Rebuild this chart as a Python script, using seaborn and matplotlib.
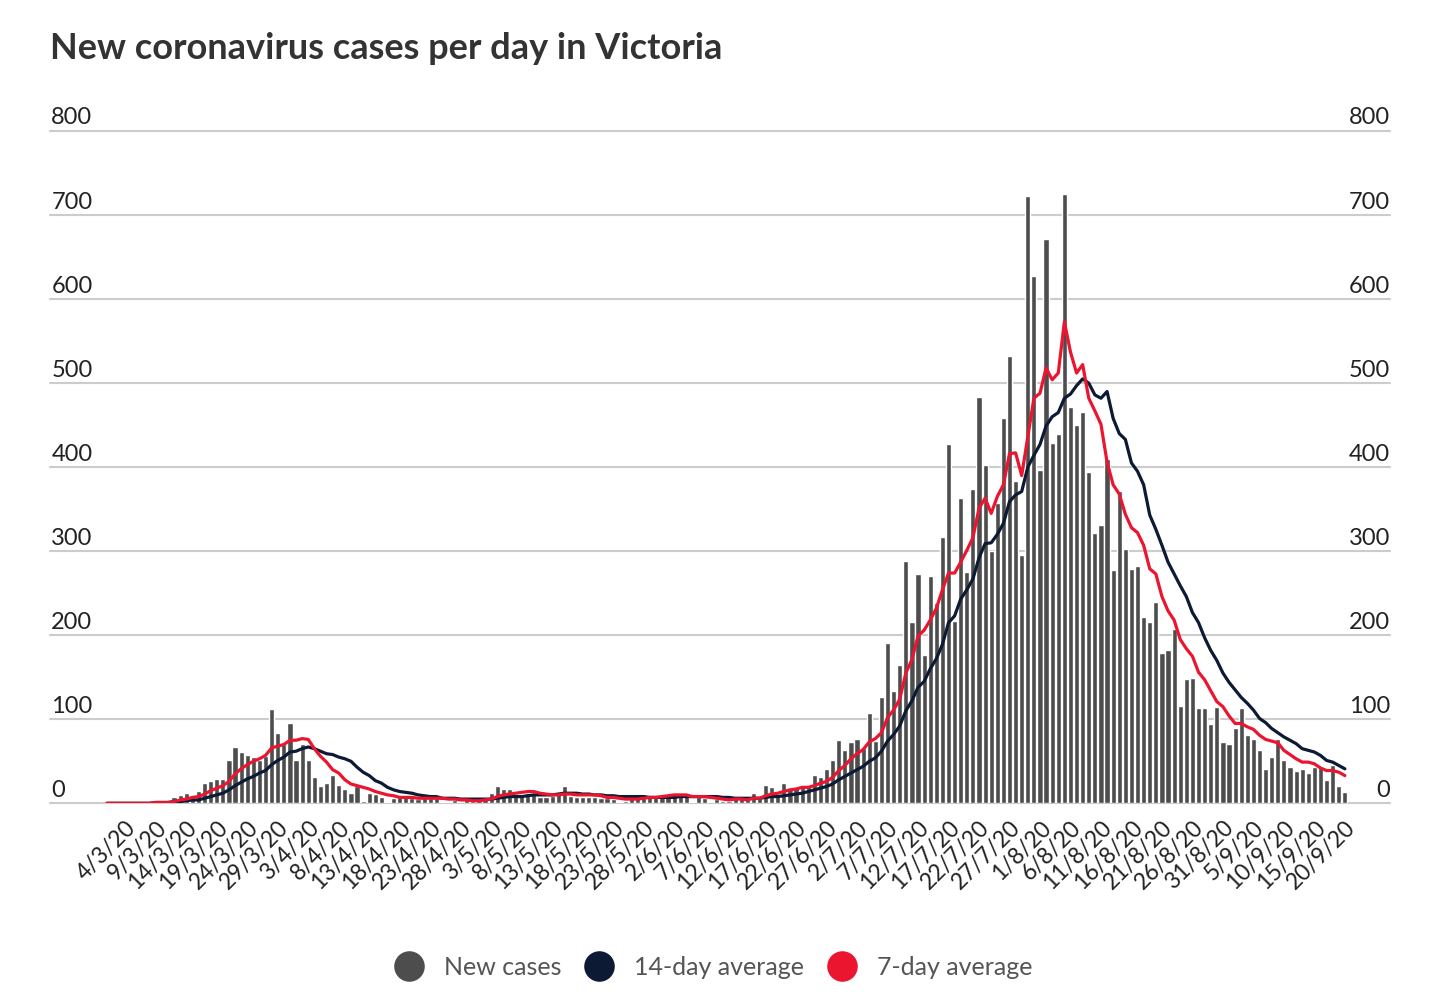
import pandas as pd
import matplotlib
matplotlib.use('Agg')
import matplotlib.pyplot as plt
import matplotlib.transforms as mtransforms
from matplotlib.lines import Line2D
import seaborn as sns

# daily new cases, 1/3/20 - 20/9/20
mar_cases = [0, 1, 0, 1, 0, 1, 0, 0, 2, 3, 3, 7, 10, 12, 9, 15, 24, 27, 29, 29,
             51, 67, 61, 58, 55, 52, 56, 112, 84, 71, 96]
apr_cases = [51, 70, 51, 31, 20, 24, 34, 22, 17, 12, 20, 3, 12, 11, 7, 2, 6, 7, 7, 6,
             5, 8, 6, 6, 2, 2, 4, 2, 5, 3]
may_cases = [4, 6, 12, 21, 17, 17, 9, 10, 12, 12, 7, 8, 9, 11, 21, 9, 8, 7, 8, 7,
             6, 6, 5, 2, 3, 6, 10, 11, 10, 9, 10]
jun_cases = [8, 10, 9, 11, 2, 7, 6, 2, 5, 3, 3, 6, 7, 5, 12, 6, 22, 19, 10, 24,
             18, 19, 19, 22, 34, 31, 41, 51, 75, 64]
jul_cases = [73, 77, 66, 108, 74, 127, 191, 134, 165, 288, 216, 273, 177, 270, 238, 317,
             428, 217, 363, 275, 374, 484, 403, 300, 357, 459, 532, 384, 295, 723, 627]
aug_cases = [397, 671, 429, 439, 725, 471, 450, 466, 394, 322, 331, 410, 278, 372, 303, 279,
             282, 222, 216, 240, 179, 182, 208, 116, 148, 149, 113, 113, 94, 114, 73]
sep_cases = [70, 90, 113, 81, 76, 63, 41, 55, 76, 51, 43, 39, 41, 36, 43, 43, 28, 45, 21, 14]

# 14-day average line, same days
avg_14 = [0, 0, 0, 0, 0, 0, 0, 0, 1, 1, 1, 2, 2, 3, 4, 4, 6, 8, 10, 12,
          16, 21, 25, 29, 32, 36, 39, 46, 51, 55, 61, 62, 65, 67, 65, 62, 59, 58, 55, 53,
          50, 43, 37, 33, 27, 24, 19, 16, 14, 13, 12, 10, 9, 8, 8, 6, 6, 6, 5, 5,
          5, 5, 5, 5, 6, 7, 8, 8, 8, 9, 10, 10, 10, 10, 11, 12, 12, 12, 11, 11,
          10, 10, 9, 9, 8, 8, 8, 8, 8, 7, 7, 7, 7, 7, 8, 8, 8, 8, 8, 8,
          8, 7, 7, 6, 6, 6, 6, 6, 7, 8, 8, 9, 10, 11, 12, 14, 16, 18, 20, 23,
          28, 32, 36, 40, 44, 50, 54, 62, 74, 82, 92, 110, 122, 138, 145, 160, 172, 189, 215, 223,
          243, 254, 267, 292, 309, 310, 320, 333, 359, 367, 371, 400, 414, 427, 449, 460, 465, 482, 487, 497,
          505, 500, 486, 482, 490, 458, 440, 433, 405, 395, 379, 343, 326, 307, 287, 273, 259, 246, 227, 215,
          197, 182, 170, 155, 144, 135, 126, 119, 111, 101, 96, 89, 84, 79, 75, 71, 65, 63, 61, 57,
          51, 49, 45, 41]

# 7-day average line, same days
avg_7 = [0, 0, 0, 0, 0, 0, 0, 0, 1, 1, 1, 2, 4, 5, 7, 8, 11, 15, 18, 21,
         26, 35, 41, 46, 50, 53, 57, 66, 68, 70, 75, 75, 77, 76, 65, 56, 49, 40, 36, 28,
         23, 21, 19, 17, 14, 12, 10, 9, 7, 7, 7, 6, 6, 6, 6, 6, 5, 5, 4, 4,
         3, 3, 4, 5, 8, 10, 11, 12, 13, 14, 14, 12, 11, 10, 10, 11, 11, 10, 10, 10,
         10, 9, 7, 7, 6, 5, 5, 5, 6, 7, 7, 8, 9, 10, 10, 10, 8, 8, 8, 7,
         6, 5, 4, 5, 5, 4, 6, 6, 9, 11, 12, 14, 16, 17, 19, 19, 21, 24, 26, 31,
         39, 45, 53, 59, 64, 73, 77, 84, 102, 111, 124, 155, 171, 199, 206, 218, 232, 254, 274, 274,
         287, 301, 316, 351, 363, 345, 365, 379, 416, 417, 390, 436, 482, 488, 518, 504, 512, 573, 537, 512,
         522, 482, 467, 451, 406, 379, 368, 344, 328, 322, 307, 279, 273, 246, 229, 218, 195, 184, 175, 156,
         147, 134, 121, 115, 104, 95, 95, 91, 88, 81, 76, 74, 72, 63, 58, 53, 49, 49, 47, 42,
         39, 39, 37, 33]

new_cases = mar_cases + apr_cases + may_cases + jun_cases + jul_cases + aug_cases + sep_cases

tick_labels = ['4/3/20', '9/3/20', '14/3/20', '19/3/20', '24/3/20', '29/3/20', '3/4/20',
               '8/4/20', '13/4/20', '18/4/20', '23/4/20', '28/4/20', '3/5/20', '8/5/20',
               '13/5/20', '18/5/20', '23/5/20', '28/5/20', '2/6/20', '7/6/20', '12/6/20',
               '17/6/20', '22/6/20', '27/6/20', '2/7/20', '7/7/20', '12/7/20', '17/7/20',
               '22/7/20', '27/7/20', '1/8/20', '6/8/20', '11/8/20', '16/8/20', '21/8/20',
               '26/8/20', '31/8/20', '5/9/20', '10/9/20', '15/9/20', '20/9/20']
y_ticks = [0, 100, 200, 300, 400, 500, 600, 700, 800]

df = pd.DataFrame({'day': range(len(new_cases)), 'cases': new_cases,
                   'avg14': avg_14, 'avg7': avg_7})

bar_col = '#4d4d4d'
navy = '#0c1a34'
red = '#ec1530'

sns.set_theme(style='white')
plt.rcParams['font.family'] = ['Lato', 'DejaVu Sans']

fig = plt.figure(figsize=(14.52, 9.96), dpi=100)
ax = fig.add_axes([50 / 1452, 1 - 803.3 / 996, 1340 / 1452, (803.3 - 131) / 996])

sns.barplot(data=df, x='day', y='cases', color=bar_col, saturation=1, width=0.85, ax=ax)
sns.lineplot(data=df, x='day', y='avg14', color=navy, lw=2.3, ax=ax)
sns.lineplot(data=df, x='day', y='avg7', color=red, lw=2.3, ax=ax)

ax.set_xlim(-9.35, 210.4)
ax.set_ylim(0, 800)
ax.set_xlabel('')
ax.set_ylabel('')
sns.despine(ax=ax, left=True, bottom=True)

ax.set_yticks(y_ticks)
ax.set_yticklabels([])
ax.yaxis.grid(True, color='#cccccc', lw=1.5)
ax.set_axisbelow(True)
for gl in ax.get_ygridlines():
    gl.set_clip_on(False)
ax.tick_params(axis='y', length=0)

# y labels sit above the gridlines on both sides
trans = mtransforms.offset_copy(mtransforms.blended_transform_factory(ax.transAxes, ax.transData),
                                fig=fig, y=6.5, units='dots')
for v in y_ticks:
    ax.text(0.001, v, str(v), transform=trans, ha='left', va='baseline', fontsize=17, color='#222222')
    ax.text(1.0, v, str(v), transform=trans, ha='right', va='baseline', fontsize=17, color='#222222')

ax.set_xticks(range(3, len(new_cases), 5))
ax.set_xticklabels(tick_labels, rotation=45, ha='right', rotation_mode='anchor',
                   fontsize=16.5, color='#222222')
ax.tick_params(axis='x', length=0, pad=10)

fig.text(50 / 1452, 1 - 59 / 996, 'New coronavirus cases per day in Victoria',
         fontsize=26, fontweight='bold', color='#333333')

handles = [Line2D([], [], marker='o', ls='none', markersize=22, markerfacecolor=c,
                  markeredgecolor='none', label=l)
           for c, l in [(bar_col, 'New cases'), (navy, '14-day average'), (red, '7-day average')]]
fig.legend(handles=handles, loc='center', bbox_to_anchor=(0.4907, 0.0291), ncol=3,
           frameon=False, fontsize=18, labelcolor='#555555', handlelength=1.3,
           handletextpad=0.75, columnspacing=0.85)

fig.savefig('out.png', dpi=100)
